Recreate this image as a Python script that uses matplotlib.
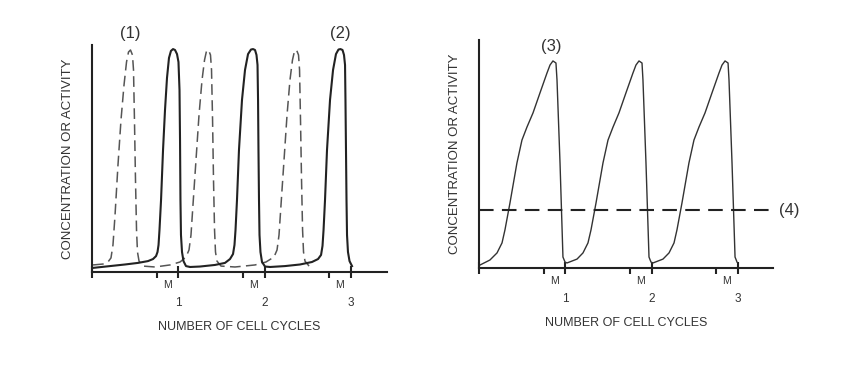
import matplotlib
matplotlib.use("Agg")
import matplotlib.pyplot as plt
import matplotlib.transforms as mtransforms

# --- data (x in cell cycles, y as fraction of max) ---
solid_x = [0.012, 0.209, 0.382, 0.533, 0.649, 0.707, 0.742, 0.759, 0.771, 0.782,
           0.800, 0.823, 0.846, 0.869, 0.892, 0.915, 0.939, 0.962, 0.985, 1.002,
           1.014, 1.020, 1.025, 1.031, 1.043, 1.060, 1.089, 1.136, 1.251, 1.425,
           1.541, 1.599, 1.634, 1.651, 1.663, 1.680, 1.703, 1.738, 1.773, 1.808,
           1.842, 1.866, 1.889, 1.906, 1.918, 1.924, 1.929, 1.935, 1.941, 1.952,
           1.970, 2.005, 2.063, 2.236, 2.410, 2.549, 2.619, 2.654, 2.671, 2.683,
           2.700, 2.723, 2.758, 2.793, 2.827, 2.856, 2.879, 2.903, 2.920, 2.932,
           2.937, 2.943, 2.949, 2.955, 2.966, 2.984, 3.013]
solid_y = [0.018, 0.026, 0.033, 0.040, 0.048, 0.057, 0.070, 0.088, 0.119, 0.185,
           0.317, 0.537, 0.714, 0.855, 0.943, 0.974, 0.982, 0.978, 0.960, 0.925,
           0.802, 0.581, 0.317, 0.163, 0.088, 0.048, 0.026, 0.022, 0.024, 0.031,
           0.040, 0.057, 0.079, 0.119, 0.185, 0.317, 0.537, 0.758, 0.890, 0.960,
           0.980, 0.982, 0.978, 0.956, 0.912, 0.758, 0.537, 0.317, 0.163, 0.088,
           0.044, 0.024, 0.022, 0.026, 0.033, 0.044, 0.057, 0.075, 0.115, 0.185,
           0.317, 0.537, 0.758, 0.890, 0.960, 0.980, 0.982, 0.978, 0.956, 0.912,
           0.758, 0.537, 0.317, 0.163, 0.088, 0.048, 0.026]

dashed_x = [0.012, 0.127, 0.185, 0.220, 0.243, 0.267, 0.301, 0.336, 0.371, 0.400,
            0.423, 0.446, 0.469, 0.481, 0.492, 0.504, 0.516, 0.527, 0.545, 0.591,
            0.730, 0.904, 1.020, 1.089, 1.124, 1.147, 1.170, 1.205, 1.240, 1.275,
            1.304, 1.327, 1.350, 1.373, 1.385, 1.397, 1.408, 1.420, 1.431, 1.448,
            1.495, 1.657, 1.889, 2.016, 2.109, 2.144, 2.167, 2.190, 2.225, 2.260,
            2.294, 2.323, 2.347, 2.370, 2.393, 2.405, 2.416, 2.428, 2.440, 2.451,
            2.468, 2.515]
dashed_y = [0.031, 0.035, 0.044, 0.062, 0.119, 0.251, 0.471, 0.670, 0.824, 0.925,
            0.969, 0.978, 0.956, 0.890, 0.670, 0.405, 0.185, 0.088, 0.048, 0.026,
            0.022, 0.031, 0.044, 0.066, 0.097, 0.163, 0.295, 0.493, 0.692, 0.846,
            0.934, 0.974, 0.978, 0.956, 0.890, 0.670, 0.405, 0.185, 0.088, 0.048,
            0.026, 0.022, 0.031, 0.044, 0.066, 0.097, 0.163, 0.295, 0.493, 0.692,
            0.846, 0.934, 0.974, 0.978, 0.956, 0.890, 0.670, 0.405, 0.185, 0.088,
            0.048, 0.026]

saw_x = [0.012, 0.127, 0.209, 0.267, 0.301, 0.359, 0.440, 0.498, 0.556, 0.626,
         0.707, 0.788, 0.823, 0.857, 0.892, 0.904, 0.939, 0.973, 0.997,
         1.020, 1.136, 1.205, 1.263, 1.298, 1.356, 1.437, 1.495, 1.553, 1.622,
         1.703, 1.784, 1.819, 1.854, 1.889, 1.900, 1.935, 1.970, 1.993,
         2.016, 2.132, 2.202, 2.260, 2.294, 2.352, 2.433, 2.491, 2.549, 2.619,
         2.700, 2.781, 2.816, 2.851, 2.886, 2.897, 2.932, 2.967, 2.990]
saw_y = [0.013, 0.035, 0.066, 0.110, 0.167, 0.285, 0.461, 0.561, 0.618, 0.680,
         0.768, 0.855, 0.890, 0.908, 0.899, 0.825, 0.461, 0.048, 0.026,
         0.022, 0.039, 0.066, 0.110, 0.167, 0.285, 0.461, 0.561, 0.618, 0.680,
         0.768, 0.855, 0.890, 0.908, 0.899, 0.825, 0.461, 0.048, 0.026,
         0.022, 0.039, 0.066, 0.110, 0.167, 0.285, 0.461, 0.561, 0.618, 0.680,
         0.768, 0.855, 0.890, 0.908, 0.899, 0.825, 0.461, 0.048, 0.026]

threshold = 0.254

major_ticks = [0, 1, 2, 3]
major_labels = ["", "1", "2", "3"]
m_ticks = [0.75, 1.75, 2.75]

plt.rcParams["font.family"] = ["Liberation Sans", "DejaVu Sans"]
ink = "#222222"
text_col = "#333333"

fig = plt.figure(figsize=(8.59, 3.67), dpi=100)
ax1 = fig.add_axes([0.1071, 0.2589, 0.3434, 0.6185])
ax2 = fig.add_axes([0.5576, 0.2698, 0.3423, 0.6213])


def style_axes(ax, xmax):
    ax.set_xlim(0, xmax)
    ax.set_ylim(0, 1)
    for side in ["top", "right"]:
        ax.spines[side].set_visible(False)
    for side in ["left", "bottom"]:
        ax.spines[side].set_linewidth(1.5)
        ax.spines[side].set_color(ink)
    ax.set_yticks([])
    ax.set_xticks(major_ticks)
    ax.set_xticklabels(major_labels, fontsize=8.5, color=text_col)
    ax.set_xticks(m_ticks, minor=True)
    ax.tick_params(axis="x", which="major", direction="inout", length=8,
                   width=1.5, color=ink, pad=14)
    ax.tick_params(axis="x", which="minor", direction="out", length=4,
                   width=1.5, color=ink)
    trans = mtransforms.blended_transform_factory(ax.transData, ax.transAxes)
    for m in m_ticks:
        ax.text(m + 0.12, -0.035, "M", transform=trans, ha="center", va="top",
                fontsize=7.5, color=text_col)
    ax.set_xlabel("NUMBER OF CELL CYCLES", fontsize=9, color=text_col,
                  labelpad=9)
    ax.set_ylabel("CONCENTRATION OR ACTIVITY", fontsize=9.5, color=text_col,
                  labelpad=13)


# left panel: two oscillating proteins
style_axes(ax1, 3.418)
ax1.plot(dashed_x, dashed_y, color="#555555", lw=1.1, dashes=(7, 3.5),
         clip_on=False)
ax1.plot(solid_x, solid_y, color=ink, lw=1.5, clip_on=False)
ax1.text(0.44, 1.05, "(1)", ha="center", va="center", fontsize=12,
         color=text_col)
ax1.text(2.88, 1.05, "(2)", ha="center", va="center", fontsize=12,
         color=text_col)

# right panel: sawtooth activity with threshold
style_axes(ax2, 3.407)
ax2.plot(saw_x, saw_y, color=text_col, lw=1.0, clip_on=False)
ax2.axhline(threshold, color=ink, lw=1.5, dashes=(7, 4), clip_on=False)
ax2.text(0.84, 0.97, "(3)", ha="center", va="center", fontsize=12,
         color=text_col)
ax2.text(1.02, threshold, "(4)", transform=mtransforms.blended_transform_factory(
    ax2.transAxes, ax2.transData), ha="left", va="center", fontsize=12,
         color=text_col)

fig.savefig("out.png", dpi=100)
